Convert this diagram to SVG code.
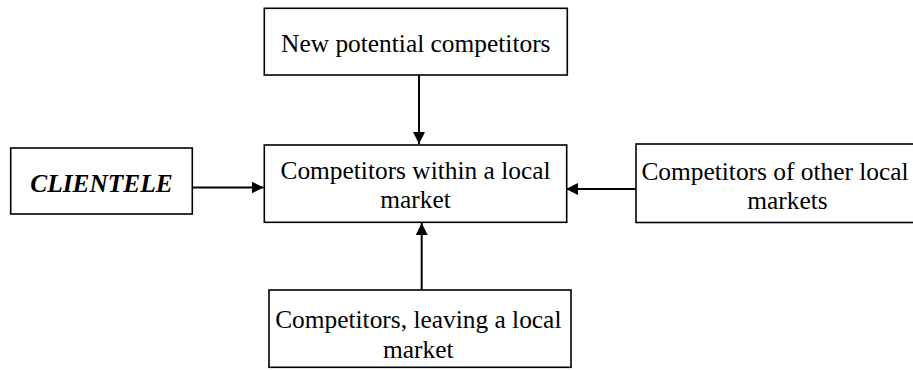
<svg xmlns="http://www.w3.org/2000/svg" width="913" height="370" viewBox="0 0 913 370">
<style>
.box{fill:#fff;stroke:#000;stroke-width:1.6}
text{font-family:'Liberation Serif','Times New Roman',Times,serif;font-size:25.4px;fill:#000;text-anchor:middle}
.b{font-weight:bold;font-style:italic}
.c{stroke:#000;stroke-width:2;fill:none;marker-end:url(#ah)}
</style>
<defs>
<marker id="ah" markerUnits="userSpaceOnUse" markerWidth="13" markerHeight="12" refX="12" refY="6" orient="auto">
<path d="M0,0 L12,6 L0,12 Z" fill="#000"/>
</marker>
</defs>
<rect width="913" height="370" fill="#fff"/>
<g id="connectors">
<line class="c" x1="419" y1="75" x2="419" y2="144"/>
<line class="c" x1="192" y1="187.5" x2="263.5" y2="187.5"/>
<line class="c" x1="636" y1="189" x2="566" y2="189"/>
<line class="c" x1="421.7" y1="290" x2="421.7" y2="223"/>
</g>
<g id="node-new">
<rect class="box" x="264.3" y="8.3" width="303" height="66.7"/>
<text x="415.8" y="51.7" font-family="Liberation Serif, serif">New potential competitors</text>
</g>
<g id="node-clientele">
<rect class="box" x="10.7" y="148" width="181.6" height="66"/>
<text class="b" x="101.5" y="191.7" font-family="Liberation Serif, serif">CLIENTELE</text>
</g>
<g id="node-center">
<rect class="box" x="264.3" y="145" width="302.4" height="77.3"/>
<text x="415.5" y="179.3" font-family="Liberation Serif, serif">Competitors within a local</text>
<text x="415.5" y="208.3" font-family="Liberation Serif, serif">market</text>
</g>
<g id="node-other">
<rect class="box" x="636" y="144" width="300" height="78.5"/>
<text x="775" y="179.8" font-family="Liberation Serif, serif">Competitors of other local</text>
<text x="787.5" y="208.5" font-family="Liberation Serif, serif">markets</text>
</g>
<g id="node-leaving">
<rect class="box" x="269" y="290" width="302" height="77.3"/>
<text x="418.3" y="328.3" font-family="Liberation Serif, serif">Competitors, leaving a local</text>
<text x="418.3" y="357.7" font-family="Liberation Serif, serif">market</text>
</g>
</svg>
